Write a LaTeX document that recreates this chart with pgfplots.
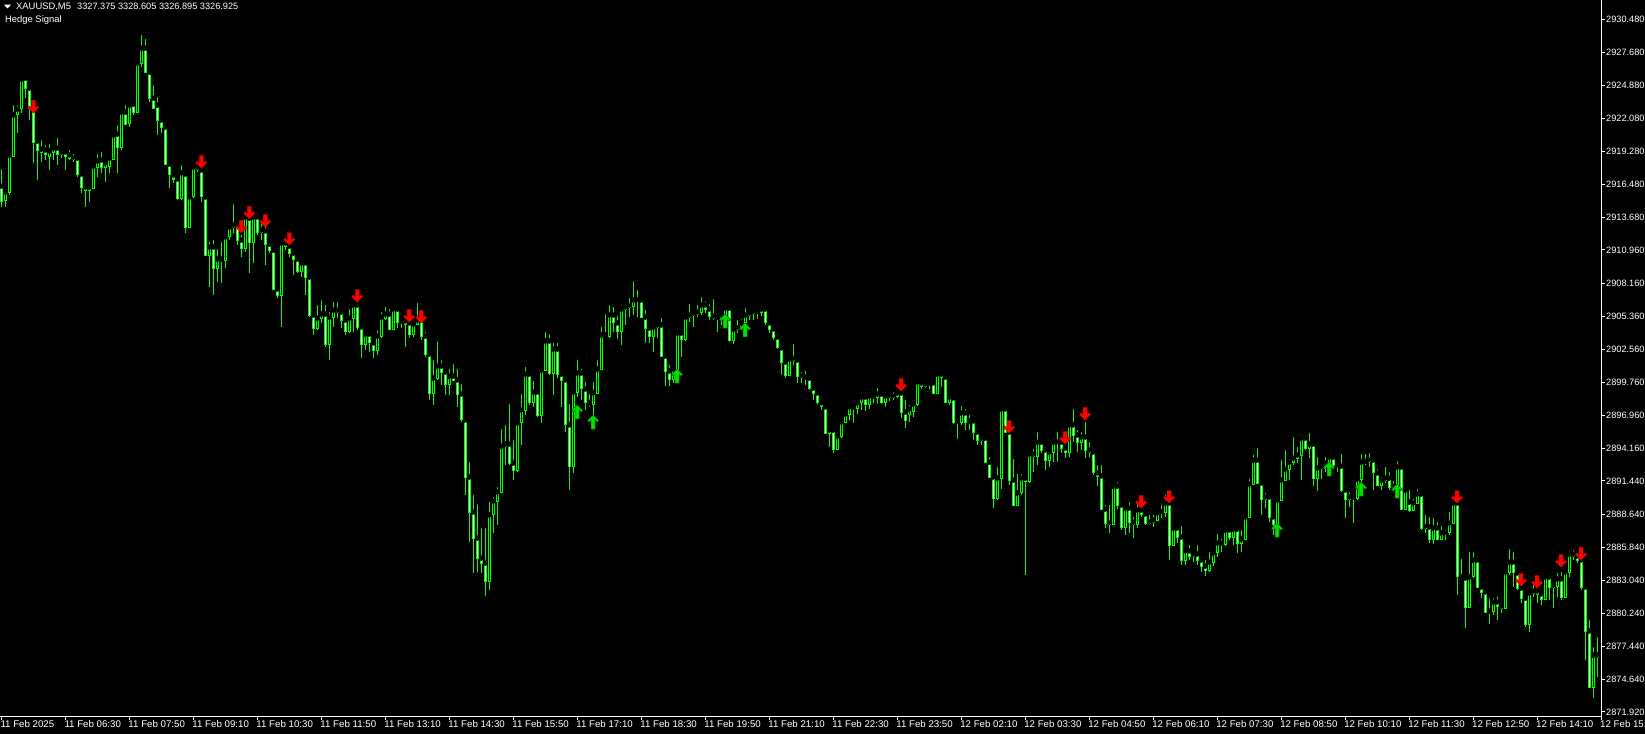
\documentclass[border=0pt]{standalone}
\usepackage{pgfplots}
\pgfplotsset{compat=1.18}
\usepackage{pgfplotstable}
\usepackage{fontspec}
\setmainfont{Liberation Sans}
\definecolor{candle}{RGB}{0,255,0}
\definecolor{sellred}{RGB}{255,0,0}
\definecolor{buygreen}{RGB}{0,225,0}

\pgfdeclareplotmark{sellarrow}{%
 \pgfpathmoveto{\pgfpoint{0pt}{0pt}}%
 \pgfpathlineto{\pgfpoint{-5.5pt}{5.5pt}}%
 \pgfpathlineto{\pgfpoint{-4pt}{7pt}}%
 \pgfpathlineto{\pgfpoint{-2pt}{5pt}}%
 \pgfpathlineto{\pgfpoint{-2pt}{12.5pt}}%
 \pgfpathlineto{\pgfpoint{2pt}{12.5pt}}%
 \pgfpathlineto{\pgfpoint{2pt}{5pt}}%
 \pgfpathlineto{\pgfpoint{4pt}{7pt}}%
 \pgfpathlineto{\pgfpoint{5.5pt}{5.5pt}}%
 \pgfpathclose
 \pgfusepathqfillstroke}
\pgfdeclareplotmark{buyarrow}{%
 \pgfpathmoveto{\pgfpoint{0pt}{0pt}}%
 \pgfpathlineto{\pgfpoint{-5.5pt}{-5.5pt}}%
 \pgfpathlineto{\pgfpoint{-4pt}{-7pt}}%
 \pgfpathlineto{\pgfpoint{-2pt}{-5pt}}%
 \pgfpathlineto{\pgfpoint{-2pt}{-14pt}}%
 \pgfpathlineto{\pgfpoint{2pt}{-14pt}}%
 \pgfpathlineto{\pgfpoint{2pt}{-5pt}}%
 \pgfpathlineto{\pgfpoint{4pt}{-7pt}}%
 \pgfpathlineto{\pgfpoint{5.5pt}{-5.5pt}}%
 \pgfpathclose
 \pgfusepathqfillstroke}

\pgfplotstableread{
i o h l c
0 2916.36 2917.97 2914.59 2915.10
1 2915.18 2916.28 2914.59 2915.86
2 2915.86 2919.07 2915.61 2918.99
3 2918.90 2923.38 2918.82 2922.37
4 2922.37 2923.38 2920.85 2922.87
5 2922.95 2925.58 2922.54 2925.41
6 2925.49 2925.58 2923.80 2924.64
7 2924.64 2924.90 2921.94 2922.95
8 2922.95 2923.04 2918.31 2920.08
9 2920.17 2920.42 2916.87 2919.33
10 2919.16 2920.42 2918.39 2919.49
11 2919.41 2920.00 2918.56 2918.99
12 2918.90 2920.08 2917.72 2919.33
13 2919.24 2920.00 2918.56 2919.57
14 2919.57 2920.59 2918.14 2919.07
15 2919.07 2919.57 2918.73 2919.24
16 2919.24 2919.57 2917.72 2918.82
17 2918.99 2919.57 2918.56 2918.73
18 2918.73 2919.24 2918.39 2918.65
19 2918.73 2918.90 2917.13 2917.30
20 2917.38 2917.72 2915.78 2916.28
21 2916.28 2916.36 2914.59 2916.03
22 2915.95 2916.62 2915.01 2916.28
23 2916.19 2918.14 2916.11 2918.05
24 2917.97 2919.24 2917.13 2918.48
25 2918.56 2919.41 2917.47 2917.97
26 2917.97 2918.56 2916.70 2918.31
27 2918.05 2919.16 2917.47 2918.73
28 2918.65 2920.93 2918.56 2920.68
29 2920.76 2921.69 2917.47 2919.66
30 2919.66 2922.71 2919.41 2922.62
31 2922.62 2923.38 2921.52 2921.60
32 2921.69 2923.46 2921.35 2923.21
33 2923.29 2923.63 2922.37 2922.54
34 2922.62 2926.84 2922.54 2926.76
35 2926.76 2929.30 2926.42 2928.02
36 2928.02 2928.96 2925.92 2926.00
37 2926.00 2926.33 2923.46 2923.80
38 2923.80 2925.07 2922.87 2922.95
39 2923.21 2924.06 2920.68 2921.94
40 2921.94 2922.03 2920.85 2921.35
41 2921.35 2921.43 2918.14 2918.22
42 2918.22 2918.39 2916.19 2917.30
43 2917.30 2917.55 2916.62 2916.96
44 2916.96 2917.04 2915.18 2915.35
45 2915.35 2918.31 2915.18 2917.47
46 2917.38 2917.47 2912.40 2912.90
47 2912.90 2915.52 2912.81 2915.44
48 2915.44 2918.05 2915.35 2917.97
49 2917.97 2918.31 2917.55 2917.80
50 2917.72 2918.56 2915.01 2915.44
51 2915.44 2915.78 2910.44 2910.53
52 2910.53 2911.80 2907.83 2911.21
53 2911.21 2911.97 2907.15 2909.43
54 2909.43 2911.21 2908.25 2910.19
55 2910.19 2911.80 2908.17 2910.03
56 2910.03 2912.48 2909.43 2912.06
57 2912.06 2913.32 2911.80 2912.90
58 2912.90 2915.01 2912.40 2913.07
59 2913.07 2913.32 2911.38 2911.80
60 2911.80 2912.40 2910.36 2911.12
61 2911.12 2913.92 2910.78 2913.75
62 2913.66 2914.59 2909.01 2911.63
63 2911.63 2914.09 2909.86 2913.75
64 2913.75 2914.17 2912.23 2912.40
65 2912.40 2913.49 2911.80 2912.65
66 2912.57 2913.24 2909.69 2911.46
67 2911.46 2911.80 2910.70 2910.95
68 2910.95 2911.12 2907.57 2907.66
69 2907.66 2907.83 2906.89 2907.15
70 2907.15 2911.63 2904.45 2911.55
71 2911.55 2911.80 2910.95 2911.29
72 2911.29 2911.38 2910.36 2910.70
73 2910.70 2910.95 2908.84 2910.19
74 2910.19 2910.36 2909.01 2909.18
75 2909.18 2910.27 2908.67 2909.86
76 2909.86 2909.94 2907.15 2908.67
77 2908.67 2908.84 2905.29 2905.46
78 2905.46 2905.71 2903.77 2904.36
79 2904.36 2906.48 2904.19 2905.20
80 2905.20 2906.89 2904.79 2905.54
81 2905.54 2906.48 2902.76 2902.93
82 2902.93 2905.88 2901.66 2905.29
83 2905.29 2906.73 2904.45 2905.88
84 2905.88 2906.73 2905.20 2905.71
85 2905.71 2905.80 2904.36 2905.04
86 2905.04 2905.29 2903.77 2904.11
87 2904.11 2906.14 2903.94 2905.20
88 2905.20 2906.56 2904.02 2906.31
89 2906.31 2906.73 2904.19 2904.45
90 2904.45 2904.87 2901.82 2902.93
91 2902.93 2904.02 2902.50 2903.85
92 2903.85 2904.19 2902.33 2903.10
93 2903.10 2903.18 2901.82 2902.50
94 2902.50 2904.36 2902.08 2903.68
95 2903.68 2905.88 2903.51 2905.29
96 2905.20 2906.31 2905.04 2905.54
97 2905.54 2906.14 2904.19 2904.28
98 2904.28 2906.14 2904.19 2905.97
99 2905.97 2906.14 2904.36 2904.79
100 2904.79 2905.20 2904.36 2904.96
101 2904.96 2905.29 2902.76 2904.62
102 2904.79 2905.04 2903.51 2903.85
103 2903.85 2905.04 2903.60 2904.70
104 2904.70 2906.65 2904.62 2905.04
105 2905.04 2905.20 2903.35 2903.68
106 2903.68 2904.19 2901.91 2902.16
107 2902.16 2902.33 2898.28 2898.87
108 2898.87 2901.82 2897.86 2900.13
109 2900.13 2903.43 2899.97 2901.15
110 2901.15 2901.82 2899.55 2900.64
111 2900.64 2900.98 2898.70 2899.63
112 2899.63 2901.07 2898.70 2900.30
113 2900.30 2901.49 2899.89 2899.97
114 2899.97 2901.07 2897.69 2898.78
115 2898.78 2899.80 2896.42 2896.59
116 2896.59 2896.75 2890.25 2891.77
117 2891.77 2893.20 2886.27 2888.81
118 2888.81 2890.42 2883.66 2886.61
119 2886.61 2889.65 2883.74 2884.92
120 2884.92 2887.62 2883.66 2884.50
121 2884.50 2887.62 2881.71 2882.98
122 2882.98 2889.82 2882.22 2888.56
123 2888.56 2890.25 2887.04 2889.74
124 2889.74 2891.09 2887.71 2890.50
125 2890.50 2896.00 2890.42 2894.38
126 2894.38 2896.34 2892.78 2894.55
127 2894.55 2898.11 2892.78 2892.95
128 2892.95 2895.06 2891.51 2892.36
129 2892.36 2896.42 2892.19 2896.34
130 2896.34 2898.95 2894.47 2897.43
131 2897.43 2901.24 2897.01 2900.47
132 2900.47 2900.64 2897.86 2898.03
133 2898.03 2900.05 2897.69 2898.95
134 2898.95 2899.38 2896.84 2897.01
135 2897.01 2900.90 2896.34 2900.81
136 2900.81 2904.19 2900.73 2903.27
137 2903.27 2904.02 2900.39 2900.56
138 2900.56 2903.27 2898.70 2902.59
139 2902.59 2903.27 2900.13 2900.47
140 2900.47 2900.90 2897.69 2899.97
141 2899.97 2900.13 2895.57 2896.17
142 2896.17 2898.11 2890.67 2892.69
143 2892.69 2899.29 2892.11 2898.95
144 2898.95 2901.82 2898.53 2900.56
145 2900.56 2901.07 2898.28 2899.21
146 2899.21 2899.97 2897.43 2898.03
147 2898.03 2898.95 2897.69 2897.86
148 2897.86 2899.97 2896.59 2898.87
149 2898.87 2901.82 2898.78 2900.90
150 2900.90 2904.62 2900.81 2903.77
151 2903.77 2905.71 2903.51 2903.68
152 2903.68 2906.48 2903.51 2905.46
153 2905.46 2906.31 2904.02 2904.79
154 2904.79 2905.54 2903.43 2904.11
155 2904.11 2906.14 2902.93 2905.97
156 2905.97 2906.56 2904.62 2906.14
157 2906.14 2907.06 2905.29 2906.22
158 2906.22 2908.50 2905.46 2906.73
159 2906.73 2907.74 2905.29 2906.70
160 2906.73 2906.98 2905.20 2905.29
161 2905.29 2906.05 2903.10 2904.36
162 2904.36 2904.62 2903.10 2903.68
163 2903.68 2904.70 2902.33 2904.45
164 2904.45 2904.79 2903.51 2904.62
165 2904.62 2905.37 2901.91 2901.99
166 2901.99 2902.08 2899.46 2900.73
167 2900.73 2901.41 2899.46 2900.05
168 2900.05 2901.07 2899.72 2900.90
169 2900.90 2904.19 2899.80 2903.94
170 2903.94 2904.28 2901.91 2903.43
171 2903.43 2905.37 2903.27 2905.29
172 2905.29 2906.56 2904.87 2905.46
173 2905.46 2905.88 2904.45 2905.54
174 2905.54 2906.48 2905.29 2905.71
175 2905.71 2907.15 2905.46 2906.31
176 2906.31 2906.81 2905.63 2905.97
177 2905.97 2906.56 2905.04 2905.37
178 2905.37 2906.98 2905.04 2905.20
179 2905.20 2905.37 2904.02 2905.17
180 2905.20 2905.88 2904.62 2905.46
181 2905.46 2906.48 2904.36 2906.05
182 2906.05 2906.22 2903.18 2903.35
183 2903.35 2904.45 2903.01 2904.28
184 2904.28 2905.20 2903.94 2904.36
185 2904.36 2905.29 2904.19 2904.79
186 2904.79 2906.22 2903.77 2905.46
187 2905.46 2905.97 2905.04 2905.63
188 2905.63 2906.05 2905.04 2905.71
189 2905.71 2905.97 2905.12 2905.68
190 2905.71 2906.39 2905.37 2905.97
191 2905.97 2906.05 2904.62 2904.79
192 2904.79 2904.87 2903.94 2904.28
193 2904.28 2904.62 2903.35 2903.60
194 2903.60 2903.77 2902.59 2902.68
195 2902.68 2902.93 2900.39 2901.49
196 2901.49 2901.66 2900.13 2900.39
197 2900.39 2901.91 2900.30 2901.74
198 2901.74 2903.18 2901.24 2901.66
199 2901.66 2901.74 2899.72 2900.30
200 2900.30 2900.81 2899.72 2900.22
201 2900.22 2900.90 2899.55 2900.13
202 2900.13 2900.39 2899.12 2899.29
203 2899.29 2899.72 2898.28 2898.87
204 2898.87 2899.29 2897.94 2898.03
205 2898.03 2898.36 2897.43 2897.69
206 2897.69 2897.77 2895.40 2895.49
207 2895.49 2896.17 2894.30 2895.74
208 2895.74 2896.00 2893.80 2894.13
209 2894.13 2895.32 2894.05 2895.23
210 2895.23 2896.75 2895.06 2896.42
211 2896.42 2897.52 2896.34 2897.09
212 2897.09 2897.94 2896.59 2897.69
213 2897.69 2898.03 2896.34 2897.60
214 2897.60 2898.45 2897.09 2898.03
215 2898.03 2898.70 2897.43 2898.53
216 2898.53 2898.61 2897.35 2897.86
217 2897.86 2898.78 2897.52 2898.61
218 2898.61 2898.70 2898.03 2898.45
219 2898.45 2899.46 2897.94 2898.78
220 2898.78 2898.87 2897.94 2898.11
221 2898.11 2898.78 2897.69 2898.61
222 2898.61 2898.87 2898.20 2898.53
223 2898.53 2899.12 2898.28 2898.61
224 2898.61 2899.12 2898.45 2898.87
225 2898.87 2898.95 2896.75 2897.26
226 2897.26 2898.45 2895.91 2896.51
227 2897.09 2898.03 2896.42 2897.52
228 2897.35 2898.36 2896.84 2897.94
229 2897.86 2899.97 2897.77 2899.80
230 2899.72 2900.05 2899.21 2899.38
231 2899.38 2899.80 2899.29 2899.63
232 2899.63 2899.97 2899.21 2899.72
233 2899.72 2899.89 2898.78 2898.87
234 2898.87 2900.56 2898.78 2900.47
235 2900.47 2900.64 2899.38 2900.22
236 2900.22 2900.30 2898.03 2898.11
237 2898.11 2898.87 2897.86 2898.53
238 2898.45 2898.53 2896.25 2896.42
239 2896.42 2896.84 2894.97 2896.40
240 2896.42 2897.94 2896.17 2897.18
241 2897.18 2897.69 2895.74 2896.34
242 2896.34 2897.18 2895.74 2896.51
243 2896.51 2896.59 2894.89 2895.57
244 2895.57 2896.00 2894.47 2894.89
245 2894.89 2895.32 2894.47 2895.06
246 2895.06 2895.15 2892.95 2893.03
247 2893.03 2893.63 2891.68 2891.77
248 2891.77 2891.85 2889.14 2889.99
249 2889.99 2892.78 2889.82 2891.68
250 2891.68 2897.60 2890.75 2897.52
251 2897.52 2897.69 2895.49 2895.57
252 2895.57 2895.66 2891.09 2891.51
253 2891.51 2893.46 2889.31 2889.40
254 2889.40 2892.19 2889.31 2890.42
255 2890.42 2892.19 2890.25 2891.68
256 2891.68 2891.85 2883.49 2891.43
257 2891.43 2894.05 2891.26 2893.71
258 2893.71 2894.30 2892.19 2893.54
259 2893.54 2895.74 2892.78 2894.72
260 2894.72 2895.06 2893.80 2894.05
261 2894.05 2894.47 2892.36 2893.20
262 2893.20 2894.21 2892.61 2893.88
263 2893.88 2895.15 2893.03 2894.72
264 2894.72 2895.74 2893.03 2894.70
265 2894.72 2895.32 2893.80 2894.21
266 2894.21 2894.64 2893.37 2893.88
267 2893.88 2896.34 2893.46 2896.17
268 2896.17 2897.69 2894.72 2895.32
269 2895.32 2895.91 2893.88 2894.72
270 2894.72 2895.74 2894.05 2895.15
271 2895.15 2896.59 2893.37 2894.05
272 2894.05 2894.89 2893.46 2893.88
273 2893.88 2894.05 2891.94 2892.11
274 2892.11 2892.95 2891.00 2891.85
275 2891.85 2892.95 2888.98 2889.06
276 2889.06 2889.57 2887.46 2887.88
277 2887.88 2889.57 2887.04 2887.79
278 2887.79 2891.26 2887.71 2891.00
279 2891.00 2891.51 2889.06 2889.40
280 2889.40 2889.82 2887.29 2887.54
281 2887.54 2889.40 2886.87 2889.14
282 2889.14 2889.82 2887.04 2887.96
283 2887.96 2888.56 2886.61 2887.79
284 2887.79 2889.65 2887.46 2888.98
285 2888.98 2889.23 2888.39 2888.64
286 2888.64 2888.73 2887.71 2887.88
287 2887.88 2888.73 2887.79 2887.96
288 2887.96 2888.73 2887.54 2888.13
289 2888.13 2889.06 2888.05 2888.73
290 2888.73 2889.57 2888.30 2888.81
291 2888.81 2890.42 2888.39 2889.57
292 2889.57 2889.82 2884.75 2886.02
293 2886.02 2887.54 2885.94 2887.46
294 2887.46 2887.79 2886.19 2886.70
295 2886.70 2887.79 2884.33 2884.75
296 2884.75 2885.77 2884.33 2885.52
297 2885.52 2886.19 2884.75 2885.09
298 2885.09 2885.60 2884.58 2885.26
299 2885.26 2886.19 2884.33 2884.75
300 2884.75 2885.18 2883.74 2884.24
301 2884.24 2884.92 2883.40 2883.91
302 2883.91 2885.60 2883.74 2884.58
303 2884.58 2885.60 2884.24 2885.35
304 2885.35 2887.12 2885.01 2886.19
305 2886.19 2886.70 2885.43 2886.10
306 2886.10 2887.71 2885.94 2887.29
307 2887.29 2887.54 2886.44 2886.70
308 2886.70 2887.79 2886.02 2887.37
309 2887.37 2887.54 2885.35 2886.19
310 2886.19 2887.46 2885.43 2886.52
311 2886.52 2888.56 2886.44 2888.39
312 2888.39 2891.77 2888.30 2891.17
313 2891.17 2893.80 2891.09 2893.20
314 2893.20 2894.38 2891.17 2891.26
315 2891.26 2891.51 2888.56 2889.91
316 2889.91 2890.59 2889.14 2890.08
317 2890.08 2890.42 2887.96 2888.39
318 2888.39 2888.47 2886.87 2887.79
319 2887.79 2889.99 2887.71 2889.82
320 2889.82 2893.37 2889.74 2891.51
321 2891.51 2894.21 2891.43 2892.44
322 2892.44 2893.46 2891.51 2893.03
323 2893.03 2895.32 2892.78 2893.37
324 2893.37 2894.47 2892.95 2893.63
325 2893.63 2895.49 2891.51 2895.06
326 2895.06 2895.23 2894.05 2894.21
327 2894.21 2895.66 2893.37 2894.55
328 2894.55 2894.89 2891.00 2891.68
329 2891.68 2893.63 2890.59 2892.53
330 2892.53 2893.03 2891.60 2892.69
331 2892.69 2893.63 2892.19 2892.95
332 2892.95 2893.80 2892.27 2893.46
333 2893.46 2893.80 2892.61 2892.78
334 2892.78 2893.03 2892.19 2892.69
335 2892.69 2893.88 2890.50 2890.67
336 2890.67 2891.09 2888.30 2889.91
337 2889.91 2890.67 2889.23 2890.08
338 2890.08 2890.25 2887.88 2889.99
339 2889.99 2891.68 2889.82 2891.60
340 2891.60 2893.88 2891.00 2893.03
341 2893.03 2893.88 2892.78 2893.12
342 2893.12 2893.96 2892.61 2893.20
343 2893.20 2893.29 2890.67 2892.11
344 2892.11 2892.61 2891.00 2891.09
345 2891.09 2891.94 2890.67 2891.51
346 2891.51 2892.78 2891.26 2891.68
347 2891.68 2892.36 2890.67 2890.92
348 2890.92 2891.60 2890.67 2891.00
349 2891.00 2893.29 2890.50 2892.61
350 2892.61 2892.69 2888.98 2889.06
351 2889.06 2890.84 2888.98 2890.67
352 2889.65 2890.84 2888.81 2888.98
353 2888.98 2890.08 2888.89 2889.57
354 2889.57 2890.92 2889.48 2890.33
355 2890.33 2890.50 2887.29 2887.46
356 2887.46 2888.73 2887.04 2887.54
357 2887.54 2888.56 2886.19 2886.52
358 2886.52 2888.47 2886.10 2887.46
359 2887.46 2888.13 2886.44 2886.52
360 2886.52 2887.79 2886.44 2887.04
361 2887.04 2887.46 2886.44 2887.00
362 2887.04 2888.98 2886.87 2887.88
363 2887.88 2889.82 2887.79 2889.57
364 2889.57 2889.65 2881.80 2883.32
365 2883.32 2885.01 2883.06 2883.23
366 2883.23 2883.40 2879.00 2880.78
367 2880.78 2885.60 2880.69 2883.32
368 2883.32 2885.60 2883.23 2884.75
369 2884.75 2885.18 2882.38 2882.47
370 2882.47 2882.64 2881.54 2882.05
371 2882.05 2882.22 2880.27 2880.35
372 2880.35 2881.62 2879.34 2880.44
373 2880.44 2881.71 2880.10 2881.20
374 2881.20 2881.80 2879.68 2880.86
375 2880.86 2881.20 2880.27 2880.69
376 2880.69 2883.91 2880.61 2883.74
377 2883.74 2885.85 2883.49 2884.58
378 2884.58 2885.60 2882.47 2883.66
379 2883.66 2883.74 2882.22 2882.38
380 2882.38 2882.47 2881.12 2881.54
381 2881.54 2881.62 2879.08 2879.34
382 2879.34 2882.22 2878.66 2881.96
383 2881.96 2883.06 2881.62 2882.13
384 2882.13 2883.06 2881.12 2881.88
385 2881.88 2882.22 2880.95 2881.45
386 2881.45 2883.40 2881.37 2883.32
387 2883.32 2883.40 2881.37 2882.47
388 2882.47 2882.89 2880.69 2882.55
389 2882.55 2883.83 2881.62 2883.15
390 2883.15 2883.91 2881.37 2881.62
391 2881.62 2883.91 2881.54 2883.74
392 2883.74 2885.69 2883.32 2885.26
393 2885.26 2885.77 2884.75 2885.09
394 2885.09 2885.35 2884.50 2884.75
395 2884.75 2884.83 2882.22 2882.47
396 2882.47 2882.55 2876.30 2878.75
397 2878.75 2879.85 2873.93 2874.02
398 2874.02 2877.56 2873.08 2876.72
399 2876.72 2878.41 2874.86 2876.55
}\candles

\begin{document}
\begin{tikzpicture}[x=1pt,y=1pt]
\fill[black] (0,0) rectangle (1645,734);
\useasboundingbox (0,0) rectangle (1645,734);
\begin{axis}[
  at={(0pt,18pt)}, anchor=south west,
  width=1601pt, height=716pt, scale only axis,
  xmin=-0.33, xmax=400, ymin=2871.57, ymax=2932.09,
  axis x line*=bottom, axis y line*=right,
  axis line style={draw=white, line width=1pt, -},
  xtick pos=bottom, ytick pos=right, yticklabel pos=right,
  xtick={0,16,...,400},
  xticklabels={{11 Feb 2025},{11 Feb 06:30},{11 Feb 07:50},{11 Feb 09:10},{11 Feb 10:30},{11 Feb 11:50},{11 Feb 13:10},{11 Feb 14:30},{11 Feb 15:50},{11 Feb 17:10},{11 Feb 18:30},{11 Feb 19:50},{11 Feb 21:10},{11 Feb 22:30},{11 Feb 23:50},{12 Feb 02:10},{12 Feb 03:30},{12 Feb 04:50},{12 Feb 06:10},{12 Feb 07:30},{12 Feb 08:50},{12 Feb 10:10},{12 Feb 11:30},{12 Feb 12:50},{12 Feb 14:10},{12 Feb 15:30}},
  ytick={2871.92,2874.64,2877.44,2880.24,2883.04,2885.84,2888.64,2891.44,2894.16,2896.96,2899.76,2902.56,2905.36,2908.16,2910.96,2913.68,2916.48,2919.28,2922.08,2924.88,2927.68,2930.48},
  yticklabels={2871.920,2874.640,2877.440,2880.240,2883.040,2885.840,2888.640,2891.440,2894.160,2896.960,2899.760,2902.560,2905.360,2908.160,2910.960,2913.680,2916.480,2919.280,2922.080,2924.880,2927.680,2930.480},
  tick style={draw=white, line width=1pt},
  tick align=outside, major tick length=4pt,
  xticklabel style={anchor=north west, inner sep=0pt, xshift=-1pt, font=\fontsize{9.7}{10}\selectfont, text=white},
  yticklabel style={anchor=west, inner sep=0pt, xshift=1pt, font=\fontsize{9.2}{10}\selectfont, text=white},
]
% wicks
\addplot[only marks, mark=none, forget plot,
  error bars/.cd, y dir=minus, y explicit, error mark=none,
  error bar style={draw=candle, line width=1pt}]
  table[x=i, y=h, y error minus expr={\thisrow{h}-\thisrow{l}}] {\candles};
% body outline
\addplot[only marks, mark=none, forget plot,
  error bars/.cd, y dir=minus, y explicit, error mark=none,
  error bar style={draw=candle, line width=3pt}]
  table[x=i, y expr={max(\thisrow{o},\thisrow{c})+0.0423}, y error minus expr={abs(\thisrow{o}-\thisrow{c})+0.0846}] {\candles};
% bear body interior
\addplot[only marks, mark=none, forget plot,
  restrict expr to domain={\thisrow{o}-\thisrow{c}}{0.09:100},
  error bars/.cd, y dir=minus, y explicit, error mark=none,
  error bar style={draw=white, line width=1pt}]
  table[x=i, y expr={\thisrow{o}-0.0423}, y error minus expr={\thisrow{o}-\thisrow{c}-0.0846}] {\candles};
% bull body interior
\addplot[only marks, mark=none, forget plot,
  restrict expr to domain={\thisrow{c}-\thisrow{o}}{0.09:100},
  error bars/.cd, y dir=minus, y explicit, error mark=none,
  error bar style={draw=black, line width=1pt}]
  table[x=i, y expr={\thisrow{c}-0.0423}, y error minus expr={\thisrow{c}-\thisrow{o}-0.0846}] {\candles};
% sell signals
\addplot[only marks, mark=sellarrow, mark options={fill=sellred, draw=sellred!80!black, line width=0.4pt}]
  coordinates {(8,2922.54) (50,2917.88) (60,2912.40) (62,2913.58) (66,2912.90) (72,2911.38) (89,2906.56) (102,2904.87) (105,2904.79) (225,2899.04) (252,2895.49) (266,2894.55) (271,2896.59) (285,2889.14) (292,2889.57) (364,2889.57) (380,2882.55) (384,2882.38) (390,2884.16) (395,2884.75)};
% buy signals
\addplot[only marks, mark=buyarrow, mark options={fill=buygreen, draw=green!45!black, line width=0.5pt}]
  coordinates {(144,2897.86) (148,2897.01) (169,2900.90) (181,2905.54) (186,2904.79) (319,2887.88) (332,2893.03) (340,2891.34) (349,2891.17)};
\end{axis}
\fill[white] (4,729.3) -- (11,729.3) -- (7.5,725.6) -- cycle;
\node[anchor=base west, inner sep=0pt, text=white, font=\fontsize{9.4}{10}\selectfont] at (16,724.5) {XAUUSD,M5};
\node[anchor=base west, inner sep=0pt, text=white, font=\fontsize{9.2}{10}\selectfont] at (77,724.5) {3327.375 3328.605 3326.895 3326.925};
\node[anchor=base west, inner sep=0pt, text=white, font=\fontsize{9.4}{10}\selectfont] at (5,711.5) {Hedge Signal};
\end{tikzpicture}
\end{document}
